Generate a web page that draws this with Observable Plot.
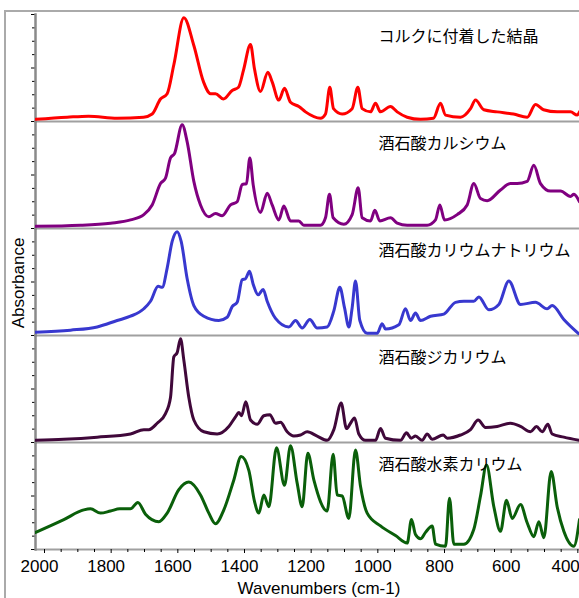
<!DOCTYPE html>
<html><head><meta charset="utf-8">
<script src="https://cdn.jsdelivr.net/npm/d3@7"></script>
<script src="https://cdn.jsdelivr.net/npm/@observablehq/plot@0.6"></script>
<style>
body{margin:0;background:#fff;width:579px;height:598px;overflow:hidden;position:relative;font-family:"Liberation Sans",Arial,sans-serif}
#frame{position:absolute;left:4px;top:10px;width:600px;height:600px;border-left:2px solid #aaa;border-top:2px solid #aaa}
#ylab{position:absolute;left:18.5px;top:283px;transform:translate(-50%,-50%) rotate(-90deg);font-size:17px;white-space:nowrap;color:#000}
#xlab{position:absolute;left:319px;top:589px;transform:translate(-50%,-50%);font-size:17px;white-space:nowrap;color:#000}
#chart{position:absolute;left:0;top:0}
</style></head><body>
<div id="frame"></div>
<div id="chart"></div>
<div id="ylab">Absorbance</div>
<div id="xlab">Wavenumbers (cm-1)</div>
<script>
const names = ["コルクに付着した結晶","酒石酸カルシウム","酒石酸カリウムナトリウム","酒石酸ジカリウム","酒石酸水素カリウム"];
const colors = ["#ff0000","#800080","#3838cf","#40083a","#0a5f0a"];
const xMajorTicks = [2000,1800,1600,1400,1200,1000,800,600,400];
const xLabelTicks = [2000,1800,1600,1400,1200,1000,800,600];
const xEdgeLabel = [400];
const xMinorTicks = [1950,1900,1850,1750,1700,1650,1550,1500,1450,1350,1300,1250,1150,1100,1050,950,900,850,750,700,650,550,500,450];
const yMinorTicks = [0.125,0.25,0.375,0.625,0.75,0.875];
const yMajorTicks = [0,0.5,1];

// [wavenumber cm-1, relative absorbance]
const cork = [[2027,0.02],[1932,0.04],[1868,0.05],[1782,0.03],[1703,0.04],[1677,0.07],[1652,0.21],[1632,0.26],[1612,0.53],[1582,0.97],[1552,0.71],[1523,0.37],[1502,0.26],[1487,0.26],[1463,0.21],[1437,0.29],[1418,0.32],[1403,0.48],[1382,0.72],[1370,0.49],[1352,0.28],[1330,0.46],[1317,0.37],[1297,0.20],[1280,0.31],[1262,0.18],[1237,0.14],[1217,0.09],[1172,0.03],[1157,0.07],[1144,0.32],[1133,0.12],[1107,0.07],[1077,0.12],[1060,0.32],[1047,0.12],[1022,0.09],[1007,0.17],[992,0.09],[962,0.14],[942,0.09],[912,0.04],[872,0.02],[833,0.03],[812,0.17],[797,0.06],[752,0.04],[722,0.12],[707,0.20],[682,0.11],[642,0.09],[593,0.07],[552,0.04],[527,0.16],[503,0.11],[462,0.09],[422,0.09],[402,0.06],[395,0.09]];
const calcium = [[2027,0.02],[1892,0.03],[1802,0.05],[1742,0.08],[1702,0.13],[1677,0.22],[1652,0.42],[1637,0.47],[1622,0.66],[1610,0.70],[1587,0.97],[1572,0.81],[1552,0.44],[1532,0.22],[1507,0.11],[1487,0.14],[1467,0.12],[1442,0.22],[1422,0.25],[1407,0.41],[1394,0.42],[1384,0.66],[1374,0.41],[1352,0.15],[1332,0.33],[1317,0.22],[1297,0.08],[1282,0.21],[1262,0.07],[1237,0.07],[1222,0.03],[1172,0.03],[1157,0.10],[1145,0.32],[1134,0.10],[1102,0.04],[1077,0.13],[1059,0.38],[1047,0.10],[1022,0.07],[1009,0.17],[994,0.07],[962,0.10],[942,0.05],[912,0.03],[852,0.03],[827,0.08],[814,0.22],[800,0.08],[762,0.13],[732,0.22],[712,0.42],[692,0.28],[672,0.26],[632,0.36],[602,0.42],[582,0.42],[552,0.44],[532,0.59],[512,0.42],[482,0.35],[452,0.35],[422,0.30],[412,0.32],[395,0.25]];
const kNa = [[2027,0.03],[1922,0.05],[1842,0.08],[1782,0.14],[1742,0.18],[1702,0.25],[1682,0.32],[1659,0.46],[1647,0.45],[1632,0.63],[1617,0.88],[1602,0.97],[1590,0.88],[1572,0.53],[1552,0.28],[1522,0.18],[1477,0.14],[1452,0.17],[1437,0.27],[1422,0.31],[1407,0.52],[1397,0.53],[1385,0.60],[1374,0.48],[1359,0.38],[1344,0.43],[1332,0.32],[1307,0.16],[1267,0.08],[1247,0.14],[1227,0.07],[1204,0.15],[1182,0.07],[1152,0.08],[1132,0.23],[1114,0.45],[1100,0.26],[1087,0.08],[1077,0.26],[1067,0.51],[1054,0.14],[1032,0.02],[1002,0.02],[987,0.11],[977,0.06],[937,0.10],[917,0.25],[902,0.14],[887,0.21],[872,0.14],[842,0.18],[802,0.20],[767,0.31],[742,0.32],[712,0.32],[697,0.36],[667,0.24],[637,0.29],[607,0.51],[572,0.29],[527,0.31],[492,0.25],[477,0.28],[442,0.15],[395,0.01]];
const dipotassium = [[2027,0.02],[1942,0.03],[1842,0.05],[1742,0.08],[1702,0.12],[1687,0.12],[1662,0.18],[1637,0.27],[1622,0.42],[1612,0.80],[1602,0.84],[1592,0.97],[1582,0.77],[1567,0.42],[1552,0.21],[1522,0.10],[1482,0.08],[1447,0.15],[1427,0.24],[1417,0.28],[1409,0.25],[1396,0.38],[1382,0.21],[1362,0.17],[1342,0.25],[1324,0.26],[1307,0.18],[1292,0.19],[1272,0.10],[1252,0.06],[1232,0.07],[1212,0.10],[1182,0.06],[1152,0.02],[1132,0.12],[1110,0.37],[1094,0.13],[1082,0.18],[1070,0.23],[1057,0.08],[1037,0.02],[1007,0.02],[992,0.13],[977,0.04],[932,0.02],[914,0.09],[900,0.04],[887,0.06],[867,0.02],[852,0.08],[837,0.03],[804,0.07],[792,0.04],[752,0.07],[722,0.12],[699,0.21],[677,0.14],[642,0.15],[602,0.18],[572,0.15],[542,0.10],[524,0.15],[507,0.10],[490,0.17],[477,0.08],[442,0.05],[395,0.02]];
const bitartrate = [[2027,0.16],[1942,0.28],[1882,0.37],[1862,0.38],[1832,0.34],[1802,0.36],[1774,0.38],[1742,0.38],[1720,0.44],[1697,0.33],[1657,0.26],[1632,0.34],[1597,0.56],[1567,0.63],[1532,0.51],[1507,0.34],[1487,0.24],[1462,0.37],[1432,0.65],[1410,0.87],[1387,0.74],[1370,0.45],[1357,0.34],[1342,0.51],[1327,0.40],[1304,0.95],[1280,0.60],[1262,0.97],[1242,0.62],[1227,0.40],[1210,0.90],[1192,0.65],[1152,0.36],[1134,0.89],[1122,0.51],[1107,0.50],[1087,0.29],[1067,0.93],[1052,0.59],[1032,0.34],[992,0.22],[947,0.13],[912,0.06],[899,0.28],[887,0.14],[872,0.10],[857,0.16],[837,0.22],[827,0.05],[797,0.03],[785,0.48],[772,0.05],[742,0.05],[712,0.19],[692,0.50],[674,0.79],[652,0.40],[632,0.17],[614,0.46],[597,0.29],[572,0.42],[552,0.25],[532,0.12],[517,0.26],[502,0.11],[480,0.73],[462,0.40],[442,0.17],[412,0.03],[395,0.28]];

const series = [cork, calcium, kNa, dipotassium, bitartrate];
const rows = series.flatMap((s, i) => s.map(([wn, a]) => ({name: names[i], wn, a})));

const chart = Plot.plot({
  width: 579, height: 598,
  marginLeft: 35, marginRight: 0, marginTop: 12, marginBottom: 47,
  style: {fontFamily: "'Liberation Sans', Arial, sans-serif", fontSize: "17px", background: "transparent", overflow: "visible", color: "#000"},
  x: {domain: [2027, 395]},
  y: {domain: [0, 1]},
  fy: {domain: names, padding: 0, axis: null},
  color: {domain: names, range: colors},
  marks: [
    Plot.ruleY([0], {stroke: "#a0a0a0", strokeWidth: 2}),
    Plot.axisY(yMinorTicks, {tickSize: 3, tickFormat: () => "", label: null}),
    Plot.axisY(yMajorTicks, {tickSize: 4, tickFormat: () => "", label: null}),
    Plot.frame({anchor: "left", stroke: "#8a8a8a", strokeWidth: 2.5}),
    Plot.axisX(xMinorTicks, {tickSize: 3, tickFormat: () => "", label: null}),
    Plot.axisX(xMajorTicks, {tickSize: 4, tickFormat: () => "", label: null}),
    Plot.axisX(xLabelTicks, {tickSize: 0, tickPadding: 10, dx: -5, tickFormat: d => String(d), fontSize: 17, label: null}),
    Plot.axisX(xEdgeLabel, {tickSize: 0, tickPadding: 10, dx: 2, textAnchor: "end", tickFormat: d => String(d), fontSize: 17, label: null}),
    Plot.line(rows, {x: "wn", y: "a", fy: "name", stroke: "name", strokeWidth: 3, curve: "monotone-x", clip: true}),
    Plot.text(names, {fy: d => d, text: d => d, frameAnchor: "top-left", lineAnchor: "middle", dx: 343, dy: 22, textAnchor: "start",
      fontFamily: "'Noto Sans CJK JP', sans-serif", fontSize: 16, fill: "#000"})
  ]
});
document.getElementById("chart").appendChild(chart);
</script></body></html>
